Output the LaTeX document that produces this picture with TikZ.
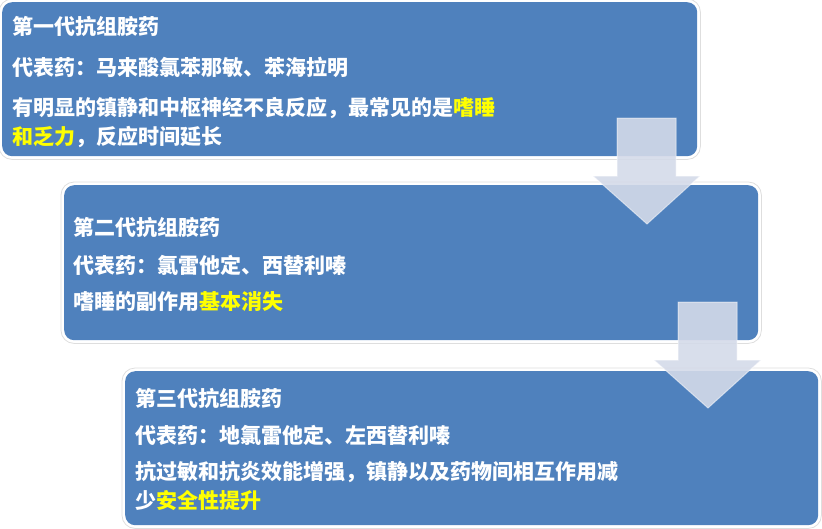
\documentclass[tikz,border=0pt]{standalone}
\usepackage{fontspec}
\setmainfont{Noto Sans CJK SC}
\usetikzlibrary{positioning}
\definecolor{boxblue}{HTML}{4F81BD}
\definecolor{arrowgray}{HTML}{D4DAE9}
\definecolor{hilite}{HTML}{FFFF00}
\tikzset{
	genbox/.style={rounded corners=10pt,fill=boxblue,anchor=north west,inner sep=0pt},
	genframe/.style={rounded corners=13pt,draw=black!13,line width=0.8pt},
	gentext/.style={anchor=west,inner sep=0pt,text=white,align=left,
		font=\bfseries\fontsize{21}{29}\selectfont},
	downarrow/.style={fill=arrowgray,fill opacity=0.9,draw=white,draw opacity=0.5,line width=1pt},
}
\begin{document}
\begin{tikzpicture}[x=1pt,y=-1pt]
			\useasboundingbox (0,0) rectangle (822,528);
			
			% three generation boxes
			\node[genbox,minimum width=695pt,minimum height=154pt] (gen1) at (2,2) {};
			\node[genbox,minimum width=694pt,minimum height=155pt] (gen2) at (64,185) {};
			\node[genbox,minimum width=693pt,minimum height=154pt] (gen3) at (125,371) {};
			\foreach \g in {gen1,gen2,gen3}
				\draw[genframe] ([shift={(-3,-3)}]\g.north west) rectangle ([shift={(3,3)}]\g.south east);
			
			% first generation
			\node[gentext] (title1) at (12,26) {第一代抗组胺药};
			\node[gentext] (drug1) at (12,67) {代表药：马来酸氯苯那敏、苯海拉明};
			\node[gentext] (note1) at (12,122.5) {有明显的镇静和中枢神经不良反应，最常见的是{\color{hilite}嗜睡}\\{\color{hilite}和乏力}，反应时间延长};
			
			% second generation
			\node[gentext] (title2) at (73,227) {第二代抗组胺药};
			\node[gentext] (drug2) at (73,265) {代表药：氯雷他定、西替利嗪};
			\node[gentext] (note2) at (73,302) {嗜睡的副作用{\color{hilite}基本消失}};
			
			% third generation
			\node[gentext] (title3) at (135,398) {第三代抗组胺药};
			\node[gentext] (drug3) at (135,435) {代表药：地氯雷他定、左西替利嗪};
			\node[gentext] (note3) at (135,486) {抗过敏和抗炎效能增强，镇静以及药物间相互作用减\\少{\color{hilite}安全性提升}};
			
			% block arrows between boxes
			\foreach \dx/\dy in {0/0,61/184}
				\draw[downarrow,shift={(\dx,\dy)}] (617,118)--(676,118)--(676,176)--(700,176)
					--(647,224)--(593,176)--(617,176)--cycle;
			
		\end{tikzpicture}
\end{document}
